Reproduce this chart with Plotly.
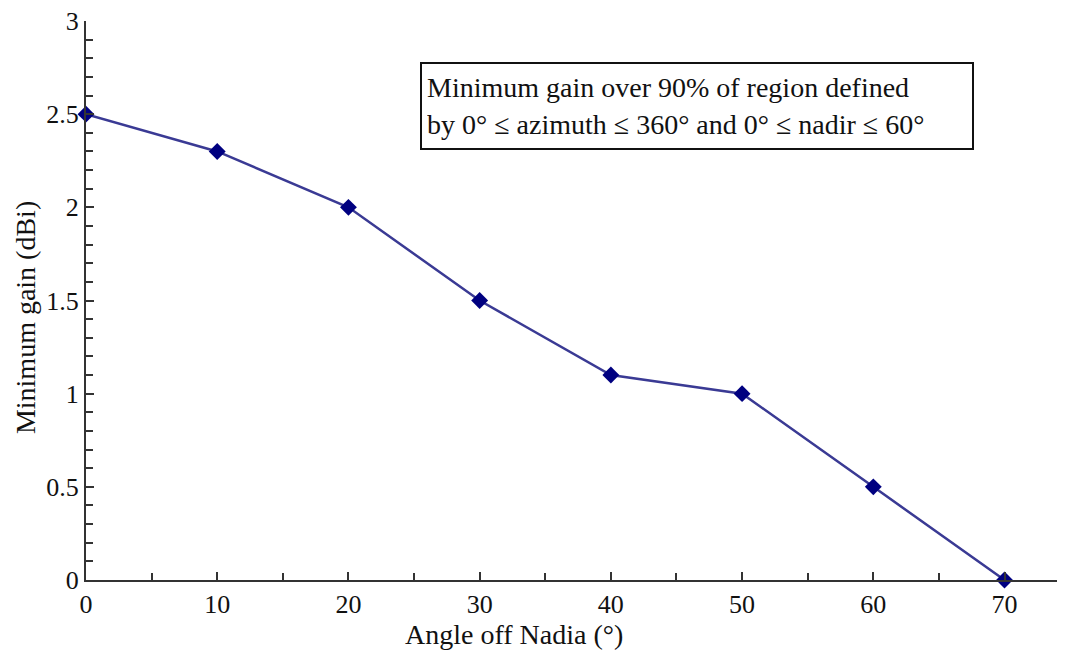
import plotly.graph_objects as go

angles = [0, 10, 20, 30, 40, 50, 60, 70]
min_gain = [2.5, 2.3, 2.0, 1.5, 1.1, 1.0, 0.5, 0.0]

x_title = "Angle off Nadia (°)"
y_title = "Minimum gain (dBi)"
note_lines = ["Minimum gain over 90% of region defined",
              "by 0° ≤ azimuth ≤ 360° and 0° ≤ nadir ≤ 60°"]

font = "Liberation Serif, Times New Roman, serif"

fig = go.Figure()
fig.add_trace(go.Scatter(
    x=angles, y=min_gain, mode="lines+markers",
    line=dict(color="#3a3a94", width=2.5),
    marker=dict(symbol="diamond", size=13, color="#000080"),
    cliponaxis=False, showlegend=False))

axis_common = dict(
    showgrid=False, zeroline=False, showline=True, linecolor="#333333",
    linewidth=2, ticks="inside", tickcolor="#333333", tickwidth=2,
    ticklen=8, tickfont=dict(family=font, size=26, color="#111111"),
    mirror=False, automargin=False, ticklabeloverflow="allow")

fig.update_xaxes(range=[0, 74.0], dtick=10, tick0=0,
                 minor=dict(ticks="inside", dtick=5, ticklen=7, tickwidth=2, tickcolor="#333333"),
                 **axis_common)
fig.update_yaxes(range=[0, 3], dtick=0.5, tick0=0,
                 minor=dict(ticks="inside", dtick=0.1, ticklen=7, tickwidth=2, tickcolor="#333333"),
                 **axis_common)

# axis titles (placed as in the reference, off-centre)
fig.add_annotation(
    x=0.441, y=-0.097, xref="paper", yref="paper", xanchor="center", yanchor="middle",
    text=x_title, showarrow=False,
    font=dict(family=font, size=28, color="#111111"))
fig.add_annotation(
    x=-0.063, y=0.470, xref="paper", yref="paper", xanchor="center", yanchor="middle",
    text=y_title, showarrow=False, textangle=-90,
    font=dict(family=font, size=28, color="#111111"))

fig.add_annotation(
    x=0.344, y=0.926, xref="paper", yref="paper", xanchor="left", yanchor="top",
    text="<br>".join(note_lines), showarrow=False, align="left",
    font=dict(family=font, size=28, color="#111111"),
    bordercolor="#111111", borderwidth=2, borderpad=5, bgcolor="white",
    width=540, height=74)

fig.update_layout(
    width=1049, height=653, plot_bgcolor="white", paper_bgcolor="white",
    margin=dict(l=78, r=0, t=13, b=81))

fig.write_html("out.html")
